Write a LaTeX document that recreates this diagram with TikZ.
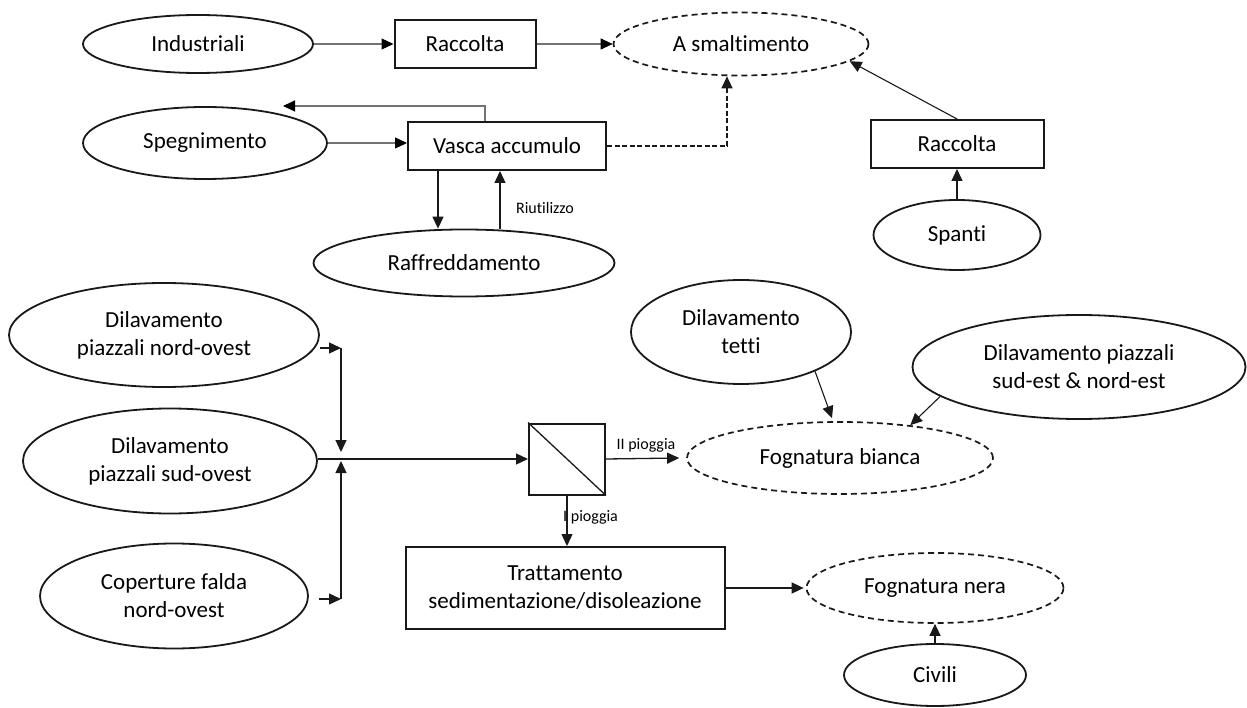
\documentclass[tikz,border=0pt]{standalone}
\usepackage{fontspec}
\setmainfont{Carlito}[Ligatures=NoCommon]
\usetikzlibrary{shapes.geometric,arrows.meta,calc}
\begin{document}
\begin{tikzpicture}[x=1pt,y=-1pt,
  every node/.style={font=\fontsize{23}{28}\selectfont, text=black, align=center, inner sep=0pt},
  ell/.style={ellipse, draw=black!90, line width=1.8pt},
  dell/.style={ellipse, draw=black!90, line width=1.7pt, dash pattern=on 6pt off 4pt},
  box/.style={rectangle, draw=black!90, line width=2pt},
  arr/.style={-{Triangle[length=12pt,width=11pt]}, line width=1.3pt, draw=black!90},
  garr/.style={draw=black!55, line width=1.1pt, -{Triangle[length=12pt,width=11pt,color=black]}},
  darr/.style={arr, dash pattern=on 5pt off 2.5pt},
  lbl/.style={font=\fontsize{16}{18}\selectfont}
]
\fill[white] (0,0) rectangle (1247,708);
\useasboundingbox (0,0) rectangle (1247,708);

% nodes
\node[ell, minimum width=230pt, minimum height=58pt] (ind) at (198,44) {Industriali};
\node[box, minimum width=141pt, minimum height=48pt] (rac1) at (465,44) {Raccolta};
\node[dell, minimum width=255pt, minimum height=63pt] (smalt) at (741,44) {A smaltimento};
\node[ell, minimum width=244pt, minimum height=72pt] (speg) at (205,143) {Spegnimento};
\node[box, minimum width=198pt, minimum height=48pt] (vasca) at (507,146) {Vasca accumulo};
\node[ell, minimum width=301pt, minimum height=67pt] (raff) at (464,263) {Raffreddamento};
\node[box, minimum width=173pt, minimum height=48pt] (rac2) at (957,144) {Raccolta};
\node[ell, minimum width=167pt, minimum height=70pt] (spanti) at (957,235) {Spanti};
\node[ell, minimum width=310pt, minimum height=104pt] (nw) at (164,335) {Dilavamento\\piazzali nord-ovest};
\node[ell, minimum width=294pt, minimum height=105pt] (sw) at (170,461) {Dilavamento\\piazzali sud-ovest};
\node[ell, minimum width=268pt, minimum height=105pt] (cop) at (174,596) {Coperture falda\\nord-ovest};
\node[ell, minimum width=220pt, minimum height=104pt] (tetti) at (741,332) {Dilavamento\\tetti};
\node[ell, minimum width=333pt, minimum height=104pt] (se) at (1079,367) {Dilavamento piazzali\\sud-est \& nord-est};
\node[box, minimum width=76pt, minimum height=71pt] (sep) at (567,459) {};
\node[dell, minimum width=306pt, minimum height=72pt] (fb) at (840,458) {Fognatura bianca};
\node[box, minimum width=319pt, minimum height=82pt] (tratt) at (565,588) {Trattamento\\sedimentazione/disoleazione};
\node[dell, minimum width=257pt, minimum height=70pt] (fn) at (935,588) {Fognatura nera};
\node[ell, minimum width=182pt, minimum height=62pt] (civ) at (935,675) {Civili};

\draw[line width=1.3pt, draw=black!90] (sep.north west) -- (sep.south east);

% coordinates
\coordinate (fbx) at (485,0);
\coordinate (fbend) at (283,106);
\coordinate (c1) at (341,348);
\coordinate (c2) at (341,599);
\coordinate (jd) at (341,452);
\coordinate (ju) at (341,461);

% top connectors
\draw[garr] (ind.east) -- (rac1.west);
\draw[garr] (rac1.east) -- (smalt.west);
\draw[garr] (speg.east) -- (speg.east -| vasca.west);
\draw[garr] (vasca.north -| fbx) |- (fbend);
\draw[arr] ([xshift=-69pt]vasca.south) -- ([xshift=-26pt]raff.north);
\draw[arr] ([xshift=36pt]raff.north) -- ([xshift=-7pt]vasca.south);
\node[lbl] (riut) at (545,208) {Riutilizzo};
\draw[darr] (vasca.east) -| ([xshift=-14pt]smalt.south);
\draw[arr, line width=1.1pt] (rac2.north) -- (smalt.-9);
\draw[arr] (spanti.north) -- (rac2.south);

% lower connectors
\draw[arr] (nw.east |- c1) -- (c1);
\draw[arr] (c1) -- (jd);
\draw[arr] ([xshift=10pt]cop.east |- c2) -- (c2);
\draw[arr] (c2) -- (ju);
\draw[arr] (sw.east |- sep.west) -- (sep.west);
\draw[arr] (sep.east) -- ([xshift=-7pt]fb.west);
\node[lbl, anchor=south] (p2) at (646,452) {II pioggia};
\draw[arr] (sep.south) -- (sep.south |- tratt.north);
\node[lbl, anchor=west] (p1) at (563,517) {I pioggia};
\draw[arr] (tratt.east) -- ([xshift=-2pt]fn.west);
\draw[arr] (civ.north) -- (fn.south);
\draw[arr, line width=1.1pt] (tetti.-28) -- ([xshift=-8pt,yshift=3pt]fb.north);
\draw[arr, line width=1.1pt] (se.192) -- (fb.25);
\end{tikzpicture}
\end{document}
